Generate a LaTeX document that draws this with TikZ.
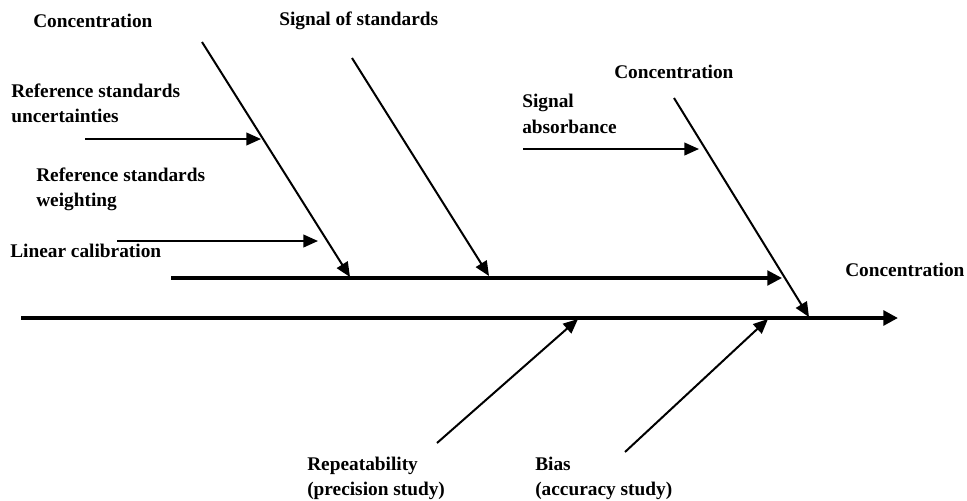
\documentclass[tikz,border=0pt]{standalone}
\usepackage{fontspec}
\setmainfont{Liberation Serif}
\usetikzlibrary{arrows.meta}

\tikzset{
  lbl/.style={font=\fontsize{14.5}{19}\selectfont\bfseries, inner sep=0pt, align=left, anchor=west},
  spine/.style={black, line width=3pt, -{Triangle[length=11pt,width=11pt]}},
  bone/.style={black, line width=1.5pt, -{Triangle[length=11pt,width=9.5pt]}},
}

\begin{document}
\begin{tikzpicture}[x=0.75pt,y=-0.75pt]
        \useasboundingbox (0,0) rectangle (967,500);

        % spines
        \coordinate (main0) at (21,318);
        \coordinate (main1) at (898,318);
        \coordinate (up0) at (171,278);
        \coordinate (up1) at (782,278);
        \draw [spine] (main0) -- (main1);
        \draw [spine, line width=2.3pt] (up0) -- (up1);

        % diagonal bones
        \coordinate (conc0) at (202,42);   \coordinate (conc1) at (350,277);
        \coordinate (sig0) at (352,58);    \coordinate (sig1) at (489,276);
        \coordinate (abs0) at (674,98);    \coordinate (abs1) at (809,317);
        \draw [bone] (conc0) -- (conc1);
        \draw [bone] (sig0) -- (sig1);
        \draw [bone] (abs0) -- (abs1);

        % small arrows
        \coordinate (unc0) at (85,139);    \coordinate (unc1) at (261,139);
        \coordinate (lin0) at (117,241);   \coordinate (lin1) at (318,241);
        \coordinate (sab0) at (523,149);   \coordinate (sab1) at (699,149);
        \foreach \a in {unc,lin,sab} {
            \draw [bone] (\a0) -- (\a1);
        }

        % bottom bones
        \coordinate (rep0) at (437,443);   \coordinate (rep1) at (578,319);
        \coordinate (bias0) at (625,452);  \coordinate (bias1) at (768,319);
        \draw [bone] (rep0) -- (rep1);
        \draw [bone] (bias0) -- (bias1);

        % labels
        \node [lbl] (tconc) at (33,21) {Concentration};
        \node [lbl] (tsig) at (279,21) {Signal of standards};
        \node [lbl] (tunc) at (11,103.5) {Reference standards\\uncertainties};
        \node [lbl] (twei) at (36,189.5) {Reference standards\\weighting};
        \node [lbl] (tlin) at (10,251) {Linear calibration};
        \node [lbl] (tconcb) at (614,72) {Concentration};
        \node [lbl] (tsab) at (522,114) {Signal\\absorbance};
        \node [lbl] (tconcc) at (845,270) {Concentration};
        \node [lbl] (trep) at (307,478.5) {Repeatability\\(precision study)};
        \node [lbl] (tbias) at (535,478.5) {Bias\\(accuracy study)};
    \end{tikzpicture}
\end{document}
